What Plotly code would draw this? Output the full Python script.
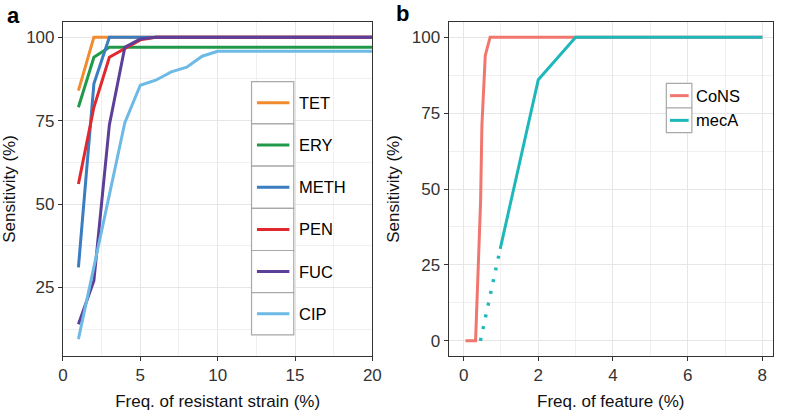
import plotly.graph_objects as go

W, H = 788, 411

# ---------------- data: panel a ----------------
freq_a = list(range(1, 21))
drug_names = ["TET", "ERY", "METH", "PEN", "FUC", "CIP"]
tet = [84, 100, 100] + [100] * 17
ery = [79, 94, 97] + [97] * 17
meth = [31, 86, 100] + [100] * 17
pen = [56, 79, 94, 96.7, 99.2, 100] + [100] * 14
fuc = [14, 27, 73.7, 97, 99.5, 100] + [100] * 14
cip = [9.5, 31, 52.5, 74.4, 85.6, 87.1, 89.6, 91, 94.3, 95.8] + [95.8] * 10
drug_values = [tet, ery, meth, pen, fuc, cip]
drug_colors = ["#F28A2E", "#22994A", "#3A7DC0", "#E0282E", "#5C3F98", "#6DBAE6"]

# ---------------- data: panel b ----------------
feature_names = ["CoNS", "mecA"]
cons_x = [0.05, 0.32, 0.455, 0.49, 0.58, 0.71, 3, 8]
cons_y = [0, 0, 46, 71, 94, 100, 100, 100]
meca_x = [0.98, 2, 3, 8]
meca_y = [30.3, 86, 100, 100]
meca_dot_x = [0.45, 0.98]
meca_dot_y = [0, 30.3]
feature_colors = ["#F0766E", "#1EB8BB"]

fig = go.Figure()

for name, vals, col in zip(drug_names, drug_values, drug_colors):
    fig.add_trace(go.Scatter(x=freq_a, y=vals, mode="lines", name=name,
                             line=dict(color=col, width=3),
                             xaxis="x", yaxis="y", showlegend=False))

fig.add_trace(go.Scatter(x=cons_x, y=cons_y, mode="lines", name="CoNS",
                         line=dict(color=feature_colors[0], width=3),
                         xaxis="x2", yaxis="y2", showlegend=False))
fig.add_trace(go.Scatter(x=meca_dot_x, y=meca_dot_y, mode="lines", name="mecA",
                         line=dict(color=feature_colors[1], width=3.4, dash="3px,9px"),
                         xaxis="x2", yaxis="y2", showlegend=False))
fig.add_trace(go.Scatter(x=meca_x, y=meca_y, mode="lines", name="mecA",
                         line=dict(color=feature_colors[1], width=3),
                         xaxis="x2", yaxis="y2", showlegend=False))


def px(x):
    return x / W


def py(y):
    return 1 - y / H


grid = "#E6E6E6"
minor_grid = "#F0F0F0"
axis_common = dict(showline=True, mirror=True, linecolor="#333333", linewidth=1.1,
                   ticks="outside", ticklen=4, tickcolor="#333333", tickwidth=1,
                   gridcolor=grid, gridwidth=1, zeroline=False,
                   tickfont=dict(family="Liberation Sans", size=17, color="#333333"),
                   title_font=dict(family="Liberation Sans", size=17, color="#111111"))

ydom = [py(356), py(22)]
fig.update_layout(
    width=W, height=H, margin=dict(l=0, r=0, t=0, b=0),
    paper_bgcolor="white", plot_bgcolor="white",
    xaxis=dict(domain=[px(59), px(374)], range=[0, 20], tick0=0, dtick=5,
               minor=dict(dtick=2.5, showgrid=True, gridcolor=minor_grid, ticks=""),
               title=dict(text="Freq. of resistant strain (%)", standoff=12), anchor="y",
               **axis_common),
    yaxis=dict(domain=ydom, range=[4.45, 104.55], tickvals=[25, 50, 75, 100],
               minor=dict(tickvals=[12.5, 37.5, 62.5, 87.5], showgrid=True, gridcolor=minor_grid, ticks=""),
               title=dict(text="Sensitivity (%)", standoff=7), anchor="x",
               **axis_common),
    xaxis2=dict(domain=[px(451.7), px(781.7)], range=[-0.40, 8.28], tick0=0, dtick=2,
                minor=dict(dtick=1, showgrid=True, gridcolor=minor_grid, ticks=""),
                title=dict(text="Freq. of feature (%)", standoff=12), anchor="y2",
                **axis_common),
    yaxis2=dict(domain=ydom, range=[-5, 105], tickvals=[0, 25, 50, 75, 100],
                minor=dict(tickvals=[12.5, 37.5, 62.5, 87.5], showgrid=True, gridcolor=minor_grid, ticks=""),
                title=dict(text="Sensitivity (%)", standoff=7), anchor="x2",
                **axis_common),
)

shapes = []
annotations = []

# panel letters
annotations.append(dict(text="<b>a</b>", x=px(0), y=py(16), xref="paper", yref="paper",
                        xanchor="left", yanchor="middle", showarrow=False,
                        font=dict(family="Liberation Sans", size=22, color="black")))
annotations.append(dict(text="<b>b</b>", x=px(396), y=py(14), xref="paper", yref="paper",
                        xanchor="left", yanchor="middle", showarrow=False,
                        font=dict(family="Liberation Sans", size=22, color="black")))

# legend panel a (manual, ggplot-style keys)
key_top, key_h = 81.7, 42.2
for i, (name, col) in enumerate(zip(drug_names, drug_colors)):
    y0 = key_top + i * key_h
    y1 = y0 + key_h
    ym = (y0 + y1) / 2
    shapes.append(dict(type="rect", xref="paper", yref="paper",
                       x0=px(251), x1=px(294), y0=py(y1), y1=py(y0),
                       line=dict(color="#A8A8A8", width=1.2), fillcolor="white", layer="above"))
    shapes.append(dict(type="line", xref="paper", yref="paper",
                       x0=px(256.5), x1=px(289.5), y0=py(ym), y1=py(ym),
                       line=dict(color=col, width=3), layer="above"))
    annotations.append(dict(text=name, x=px(297), y=py(ym), xref="paper", yref="paper",
                            xanchor="left", yanchor="middle", showarrow=False,
                            font=dict(family="Liberation Sans", size=16.5, color="black")))

# legend panel b
key_top_b, key_h_b = 83.3, 24.7
for i, (name, col) in enumerate(zip(feature_names, feature_colors)):
    y0 = key_top_b + i * key_h_b
    y1 = y0 + key_h_b
    ym = (y0 + y1) / 2
    shapes.append(dict(type="rect", xref="paper", yref="paper",
                       x0=px(673.3), x1=px(699.3), y0=py(y1), y1=py(y0),
                       line=dict(color="#A8A8A8", width=1.2), fillcolor="white", layer="above"))
    shapes.append(dict(type="line", xref="paper", yref="paper",
                       x0=px(677), x1=px(696), y0=py(ym), y1=py(ym),
                       line=dict(color=col, width=3), layer="above"))
    annotations.append(dict(text=name, x=px(701), y=py(ym), xref="paper", yref="paper",
                            xanchor="left", yanchor="middle", showarrow=False,
                            font=dict(family="Liberation Sans", size=16.5, color="black")))

fig.update_layout(shapes=shapes, annotations=annotations)
fig.write_html("out.html", config={"displayModeBar": False},
               post_script="document.body.style.margin='0';document.body.style.overflow='hidden';")
